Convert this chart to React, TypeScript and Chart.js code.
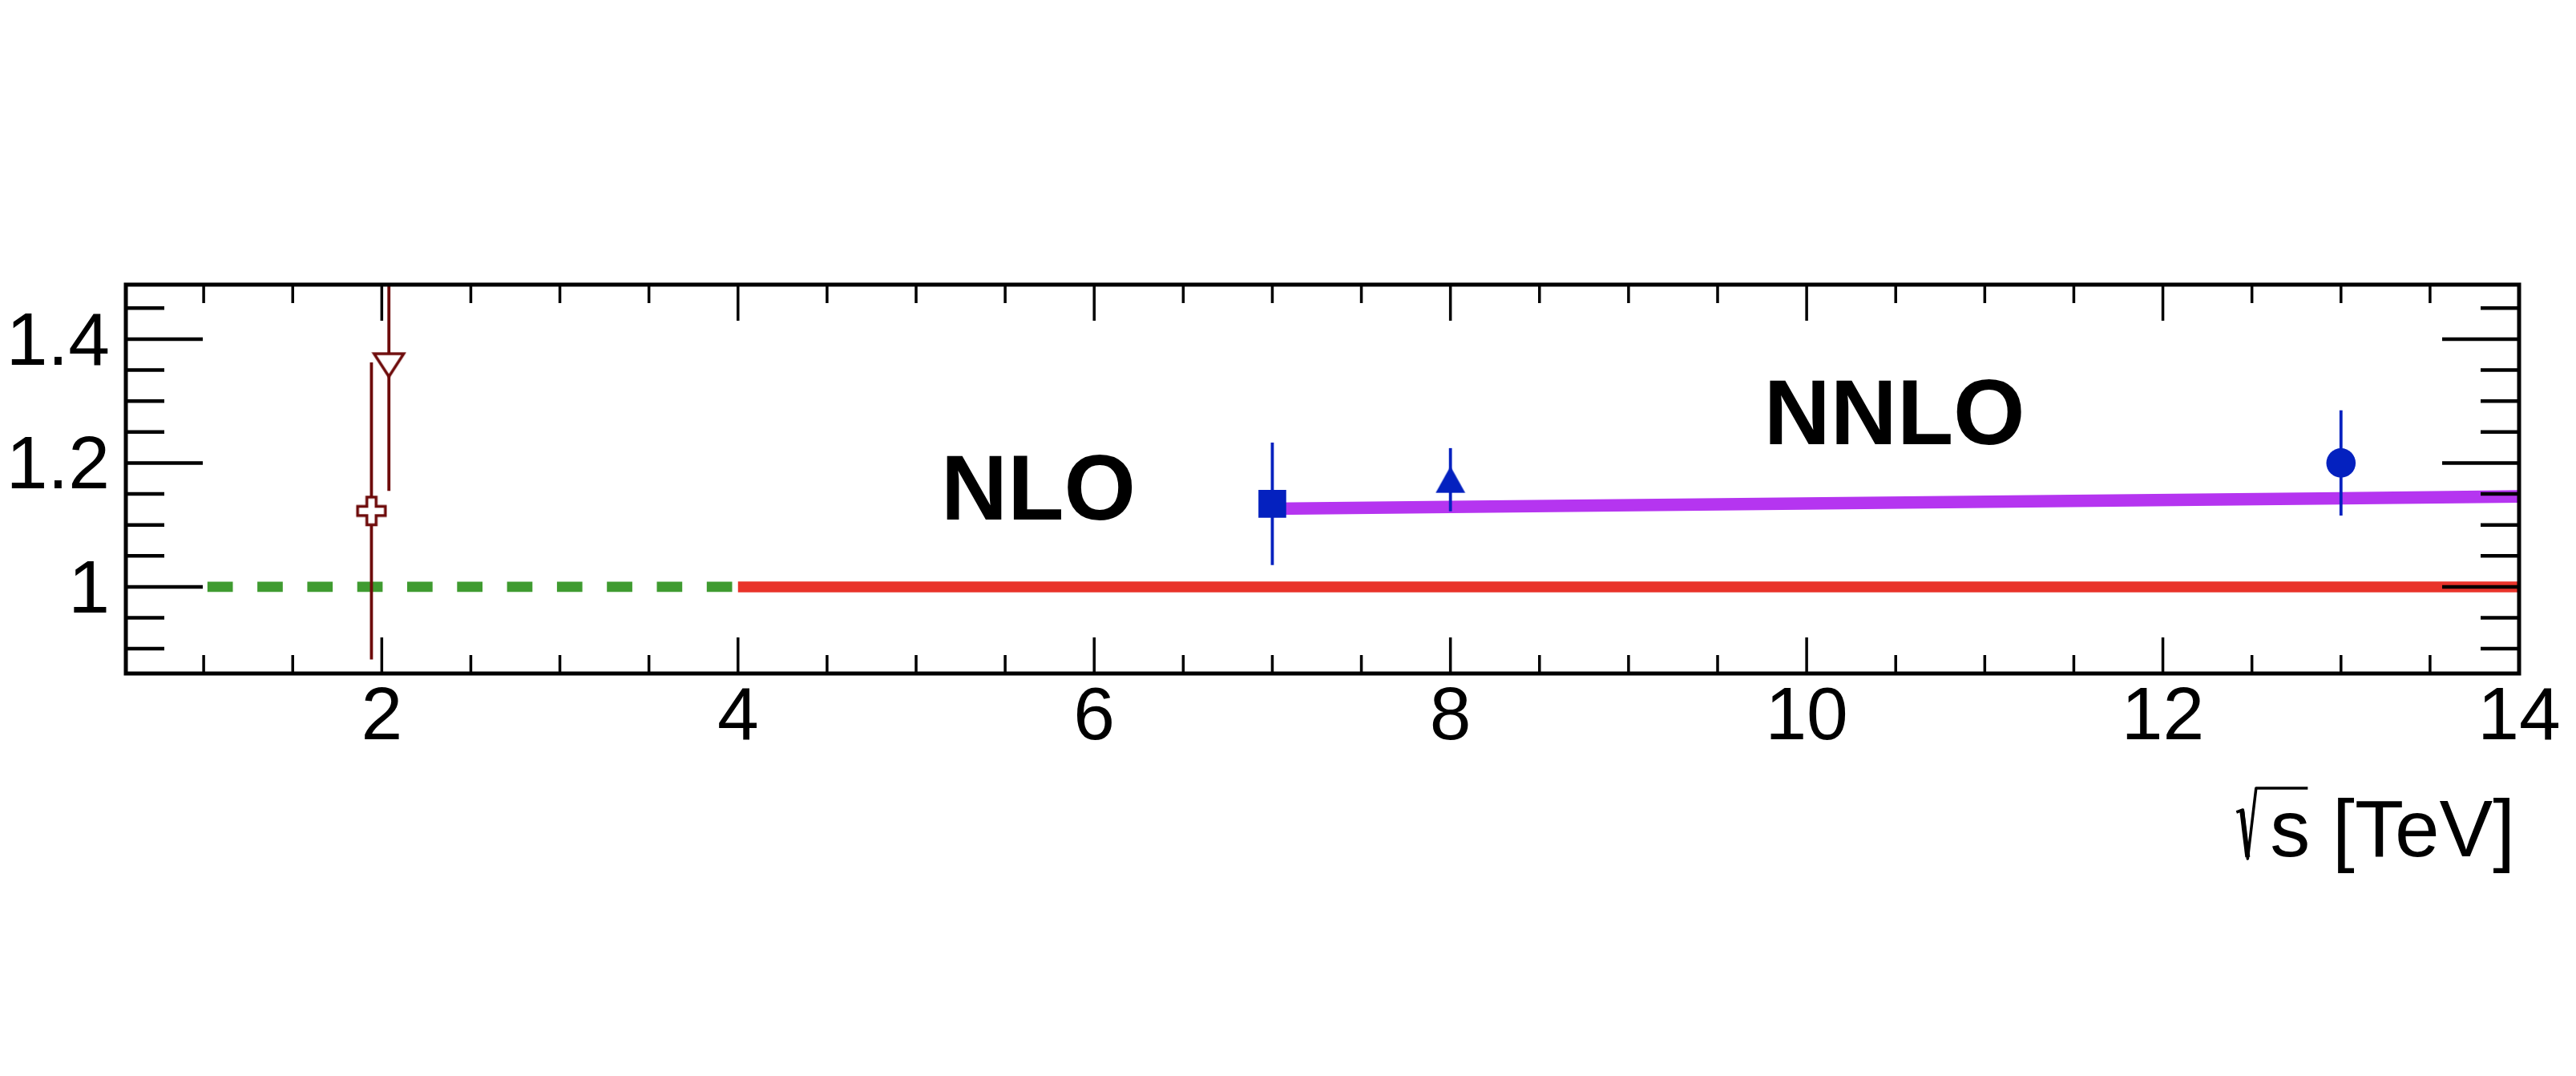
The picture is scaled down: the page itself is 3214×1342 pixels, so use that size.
import React, { useEffect, useRef } from 'react';
import { Chart, registerables } from 'chart.js';

Chart.register(...registerables);

// ---- axis ranges and tick labels ----
const X_MIN = 0.563;
const X_MAX = 14;
const Y_MIN = 0.86;
const Y_MAX = 1.488;
const xTickLabels = [2, 4, 6, 8, 10, 12, 14];
const yTickLabels = [1, 1.2, 1.4];

// ---- measurements (ratio vs sqrt(s)) ----
const tevCrossX = [1.942];
const tevCrossY = [1.1225];
const tevCrossErr = [0.24];

const tevTriX = [2.04];
const tevTriY = [1.357];
const tevTriErr = [0.202];

const lhc7X = [7];
const lhc7Y = [1.134];
const lhc7Err = [0.099];

const lhc8X = [8];
const lhc8Y = [1.173];
const lhc8Err = [0.051];

const lhc13X = [13];
const lhc13Y = [1.2];
const lhc13Err = [0.085];

// ---- theory curves ----
const nnloX = [7, 8, 13, 14];
const nnloY = [1.126, 1.129, 1.143, 1.146];

const nloX = [4, 14];
const nloY = [1, 1];

const lowX = [1, 4];
const lowY = [1, 1];

// ---- text labels (data coordinates) ----
const textLabels = [
  { text: 'NLO', x: 5.14, y: 1.109 },
  { text: 'NNLO', x: 9.76, y: 1.2307 },
];
const xTitle = 's [TeV]';

const FONT = "'Liberation Sans', Arial, Helvetica, sans-serif";
const BLUE = '#0421bf';
const DARKRED = '#6e0b0b';
const PURPLE = '#b535f0';
const RED = '#e9332a';
const GREEN = '#3f9b30';

const pts = (xs: number[], ys: number[]) => xs.map((x, i) => ({ x, y: ys[i] }));

function makeCanvas(w: number, h: number, draw: (g: CanvasRenderingContext2D) => void) {
  const c = document.createElement('canvas');
  c.width = w;
  c.height = h;
  const g = c.getContext('2d')!;
  draw(g);
  return c;
}

export default function App() {
  const ref = useRef<HTMLCanvasElement>(null);

  useEffect(() => {
    const canvas = ref.current!;

    const triUp = makeCanvas(38, 34, (g) => {
      g.fillStyle = BLUE;
      g.beginPath();
      g.moveTo(0.5, 33.5);
      g.lineTo(37.5, 33.5);
      g.lineTo(19, 0.3);
      g.closePath();
      g.fill();
    });

    const triDownOpen = makeCanvas(44, 36, (g) => {
      g.lineWidth = 3.5;
      g.strokeStyle = DARKRED;
      g.fillStyle = '#ffffff';
      g.lineJoin = 'miter';
      g.beginPath();
      g.moveTo(3.5, 3);
      g.lineTo(40.5, 3);
      g.lineTo(22, 31.5);
      g.closePath();
      g.fill();
      g.stroke();
    });

    const crossOpen = makeCanvas(40, 40, (g) => {
      const c = 20;
      const o = 17.3;
      const a = 5.8;
      g.lineWidth = 3.5;
      g.strokeStyle = DARKRED;
      g.fillStyle = '#ffffff';
      g.lineJoin = 'miter';
      g.beginPath();
      g.moveTo(c - a, c - o);
      g.lineTo(c + a, c - o);
      g.lineTo(c + a, c - a);
      g.lineTo(c + o, c - a);
      g.lineTo(c + o, c + a);
      g.lineTo(c + a, c + a);
      g.lineTo(c + a, c + o);
      g.lineTo(c - a, c + o);
      g.lineTo(c - a, c + a);
      g.lineTo(c - o, c + a);
      g.lineTo(c - o, c - a);
      g.lineTo(c - a, c - a);
      g.closePath();
      g.fill();
      g.stroke();
    });

    const errorBarPlugin = {
      id: 'errorBars',
      beforeDatasetDraw(chart: any, args: any) {
        const ds = chart.data.datasets[args.index];
        if (!ds.errors) return;
        const { ctx, chartArea, scales } = chart;
        ctx.save();
        ctx.beginPath();
        ctx.rect(chartArea.left, chartArea.top, chartArea.right - chartArea.left, chartArea.bottom - chartArea.top);
        ctx.clip();
        ctx.strokeStyle = ds.errColor;
        ctx.lineWidth = ds.errWidth;
        ds.data.forEach((p: any, i: number) => {
          const e = ds.errors[i];
          const px = scales.x.getPixelForValue(p.x);
          ctx.beginPath();
          ctx.moveTo(px, scales.y.getPixelForValue(p.y + e));
          ctx.lineTo(px, scales.y.getPixelForValue(p.y - e));
          ctx.stroke();
        });
        ctx.restore();
      },
    };

    const framePlugin = {
      id: 'rootFrame',
      afterDatasetsDraw(chart: any) {
        const { ctx, chartArea, scales } = chart;
        const { left, right, top, bottom } = chartArea;
        const xs = scales.x;
        const ys = scales.y;
        ctx.save();
        ctx.strokeStyle = '#000';
        ctx.lineCap = 'butt';
        // y ticks
        ctx.lineWidth = 4.5;
        for (let k = 1; k * 0.05 <= Y_MAX + 1e-9; k++) {
          const v = k * 0.05;
          if (v < Y_MIN) continue;
          const major = Math.abs(v / 0.2 - Math.round(v / 0.2)) < 1e-6;
          const len = major ? 96 : 48;
          const py = ys.getPixelForValue(v);
          ctx.beginPath();
          ctx.moveTo(left, py);
          ctx.lineTo(left + len, py);
          ctx.moveTo(right, py);
          ctx.lineTo(right - len, py);
          ctx.stroke();
        }
        // x ticks
        ctx.lineWidth = 3.5;
        for (let k = 1; k * 0.5 <= X_MAX + 1e-9; k++) {
          const v = k * 0.5;
          if (v < X_MIN) continue;
          const major = Math.abs(v / 2 - Math.round(v / 2)) < 1e-6;
          const len = major ? 45 : 23;
          const px = xs.getPixelForValue(v);
          ctx.beginPath();
          ctx.moveTo(px, bottom);
          ctx.lineTo(px, bottom - len);
          ctx.moveTo(px, top);
          ctx.lineTo(px, top + len);
          ctx.stroke();
        }
        // frame
        ctx.lineWidth = 5;
        ctx.lineJoin = 'miter';
        ctx.strokeRect(left, top, right - left, bottom - top);

        // NLO / NNLO labels
        ctx.fillStyle = '#000';
        ctx.font = `bold 115px ${FONT}`;
        ctx.textAlign = 'left';
        ctx.textBaseline = 'alphabetic';
        textLabels.forEach((t) => {
          ctx.fillText(t.text, xs.getPixelForValue(t.x), ys.getPixelForValue(t.y));
        });

        // x-axis title with radical sign
        ctx.font = `100px ${FONT}`;
        ctx.textAlign = 'left';
        const titleRight = 3138;
        const baseY = 1068;
        const w = ctx.measureText(xTitle).width;
        const sx = titleRight - w;
        ctx.fillText(xTitle, sx, baseY);
        ctx.lineWidth = 3.5;
        ctx.lineJoin = 'round';
        ctx.beginPath();
        ctx.moveTo(sx - 42, baseY - 55);
        ctx.lineTo(sx - 34, baseY - 58);
        ctx.lineTo(sx - 28, baseY + 3);
        ctx.lineTo(sx - 17.5, baseY - 85);
        ctx.lineTo(sx + 47, baseY - 85);
        ctx.stroke();
        ctx.lineWidth = 6;
        ctx.beginPath();
        ctx.moveTo(sx - 35, baseY - 56);
        ctx.lineTo(sx - 28, baseY + 1);
        ctx.stroke();
        ctx.restore();
      },
    };

    const chart = new Chart(canvas, {
      type: 'scatter',
      data: {
        datasets: [
          {
            data: pts(lhc7X, lhc7Y),
            errors: lhc7Err,
            errColor: BLUE,
            errWidth: 3.8,
            pointStyle: 'rect',
            pointRadius: 24.5,
            backgroundColor: BLUE,
            borderWidth: 0,
            order: 0,
          },
          {
            data: pts(lhc8X, lhc8Y),
            errors: lhc8Err,
            errColor: BLUE,
            errWidth: 3.8,
            pointStyle: triUp,
            pointRadius: 18,
            order: 0,
          },
          {
            data: pts(lhc13X, lhc13Y),
            errors: lhc13Err,
            errColor: BLUE,
            errWidth: 3.8,
            pointStyle: 'circle',
            pointRadius: 18.3,
            backgroundColor: BLUE,
            borderWidth: 0,
            order: 0,
          },
          {
            data: pts(tevCrossX, tevCrossY),
            errors: tevCrossErr,
            errColor: DARKRED,
            errWidth: 3.8,
            pointStyle: crossOpen,
            pointRadius: 18,
            order: 0,
          },
          {
            data: pts(tevTriX, tevTriY),
            errors: tevTriErr,
            errColor: DARKRED,
            errWidth: 3.8,
            pointStyle: triDownOpen,
            pointRadius: 18,
            order: 0,
          },
          {
            data: pts(nnloX, nnloY),
            showLine: true,
            pointRadius: 0,
            borderColor: PURPLE,
            borderWidth: 15.6,
            borderCapStyle: 'butt',
            fill: false,
            order: 1,
          },
          {
            data: pts(nloX, nloY),
            showLine: true,
            pointRadius: 0,
            borderColor: RED,
            borderWidth: 13.5,
            borderCapStyle: 'butt',
            fill: false,
            order: 2,
          },
          {
            data: pts(lowX, lowY),
            showLine: true,
            pointRadius: 0,
            borderColor: GREEN,
            borderWidth: 12.7,
            borderCapStyle: 'butt',
            borderDash: [31.7, 30.6],
            borderDashOffset: 57.6,
            fill: false,
            order: 2,
          },
        ] as any,
      },
      options: {
        responsive: false,
        animation: false,
        devicePixelRatio: 1,
        events: [],
        layout: { padding: { top: 355, right: 71, left: 0, bottom: 0 } },
        plugins: {
          legend: { display: false },
          tooltip: { enabled: false },
        },
        scales: {
          x: {
            type: 'linear',
            min: X_MIN,
            max: X_MAX,
            grid: { display: false, drawTicks: false },
            border: { display: false },
            afterFit: (s: any) => {
              s.height = 502;
            },
            afterBuildTicks: (s: any) => {
              s.ticks = xTickLabels.map((v) => ({ value: v }));
            },
            ticks: {
              font: { family: FONT, size: 93 },
              color: '#000',
              padding: 1,
              maxRotation: 0,
              autoSkip: false,
              callback: (v: any) => String(v),
            },
          },
          y: {
            type: 'linear',
            min: Y_MIN,
            max: Y_MAX,
            grid: { display: false, drawTicks: false },
            border: { display: false },
            afterFit: (s: any) => {
              s.width = 157;
            },
            afterBuildTicks: (s: any) => {
              s.ticks = yTickLabels.map((v) => ({ value: v }));
            },
            ticks: {
              font: { family: FONT, size: 93 },
              color: '#000',
              padding: 20,
              labelOffset: 6,
              autoSkip: false,
              callback: (v: any) => String(v),
            },
          },
        },
      } as any,
      plugins: [errorBarPlugin, framePlugin],
    });

    return () => chart.destroy();
  }, []);

  return (
    <div style={{ position: 'absolute', left: 0, top: 0, width: 3214, height: 1342, background: '#ffffff' }}>
      <canvas ref={ref} width={3214} height={1342} style={{ display: 'block', width: 3214, height: 1342 }} />
    </div>
  );
}
